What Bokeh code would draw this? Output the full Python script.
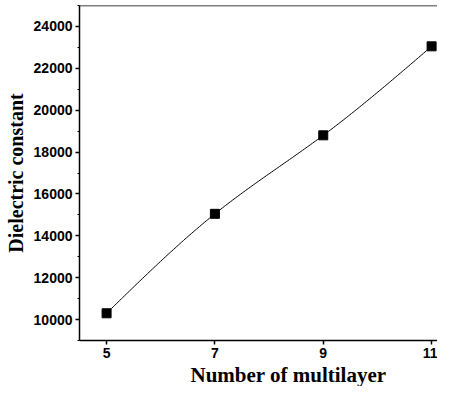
import numpy as np
from bokeh.plotting import figure
from bokeh.models import Span, FixedTicker, Title
from bokeh.embed import file_html
from bokeh.resources import INLINE

# data
layers = [5, 7, 9, 11]
dielectric = [10300, 15050, 18800, 23050]
x_ticks = [5, 7, 9, 11]
y_ticks = [10000, 12000, 14000, 16000, 18000, 20000, 22000, 24000]
y_minor = list(range(9000, 25001, 1000))
x_title = "Number of multilayer"
y_title = "Dielectric constant"


def natural_spline(xs, ys, n=200):
    xs = np.asarray(xs, float)
    ys = np.asarray(ys, float)
    k = len(xs)
    h = np.diff(xs)
    A = np.zeros((k, k))
    b = np.zeros(k)
    A[0, 0] = A[-1, -1] = 1
    for i in range(1, k - 1):
        A[i, i - 1] = h[i - 1]
        A[i, i] = 2 * (h[i - 1] + h[i])
        A[i, i + 1] = h[i]
        b[i] = 3 * ((ys[i + 1] - ys[i]) / h[i] - (ys[i] - ys[i - 1]) / h[i - 1])
    c = np.linalg.solve(A, b)
    xx = np.linspace(xs[0], xs[-1], n)
    yy = np.empty_like(xx)
    for j, t in enumerate(xx):
        i = min(np.searchsorted(xs, t, side="right") - 1, k - 2)
        d = t - xs[i]
        bi = (ys[i + 1] - ys[i]) / h[i] - h[i] * (2 * c[i] + c[i + 1]) / 3
        di = (c[i + 1] - c[i]) / (3 * h[i])
        yy[j] = ys[i] + bi * d + c[i] * d * d + di * d ** 3
    return xx, yy


sx, sy = natural_spline(layers, dielectric)

p = figure(width=437, height=386, x_range=(4.5, 11.109), y_range=(9000, 25000),
           output_backend="svg", toolbar_location=None,
           min_border_left=79, min_border_right=0, min_border_top=5,
           min_border_bottom=46)
p.outline_line_color = None
p.grid.grid_line_color = None
p.background_fill_color = "white"
p.border_fill_color = "white"

p.line(sx, sy, line_color="black", line_width=1)
p.scatter(layers, dielectric, marker="square", size=9, color="black")

p.add_layout(Span(location=25000, dimension="width", line_color="black", line_width=1.5))

for ax in (p.xaxis[0], p.yaxis[0]):
    ax.axis_line_width = 1.5
    ax.axis_line_color = "black"
    ax.major_tick_line_width = 1.5
    ax.minor_tick_line_width = 1
    ax.major_tick_out = 4
    ax.major_tick_in = 0
    ax.minor_tick_in = 0
    ax.major_label_standoff = 3
    ax.major_label_text_font = "Liberation Sans"
    ax.major_label_text_font_style = "bold"
    ax.major_label_text_font_size = "14px"
    ax.major_label_text_color = "black"
    ax.axis_label_text_font = "Liberation Serif"
    ax.axis_label_text_font_style = "bold"
    ax.axis_label_text_color = "black"

p.xaxis.ticker = FixedTicker(ticks=x_ticks)
p.xaxis.minor_tick_out = 0

p.add_layout(Title(text=x_title, align="left", offset=111, standoff=0,
                   text_font="Liberation Serif", text_font_style="bold",
                   text_font_size="21px", text_color="black"), "below")

p.yaxis.ticker = FixedTicker(ticks=y_ticks, minor_ticks=y_minor)
p.yaxis.minor_tick_out = 2
p.yaxis.axis_label = y_title
p.yaxis.axis_label_text_font_size = "20px"
p.yaxis.axis_label_standoff = 4

open("out.html", "w").write(file_html(p, INLINE))
